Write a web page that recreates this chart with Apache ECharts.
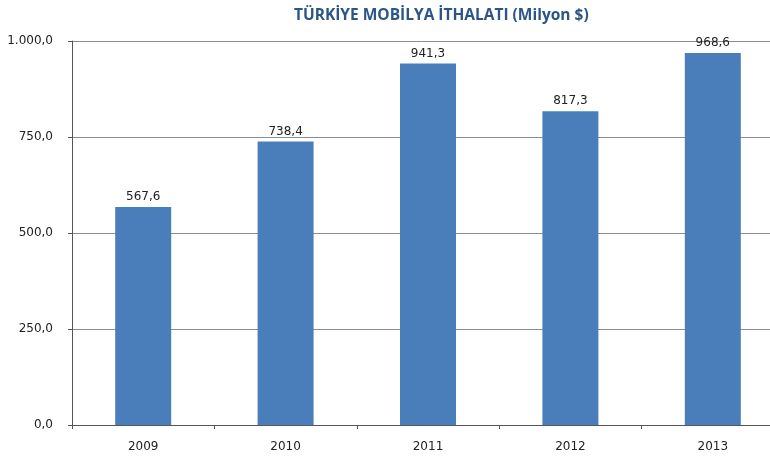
<!DOCTYPE html>
<html>
<head>
<meta charset="utf-8">
<script src="https://cdn.jsdelivr.net/npm/echarts@6/dist/echarts.min.js"></script>
<style>
  html, body { margin: 0; padding: 0; background: #fff; }
  #main { width: 770px; height: 459px; }
</style>
</head>
<body>
<div id="main"></div>
<script>
const years = ['2009', '2010', '2011', '2012', '2013']
const imports = [567.6, 738.4, 941.3, 817.3, 968.6]

// Türkçe sayı biçimi: 1.000,0
function trFormat (v) {
  const parts = v.toFixed(1).split('.')
  parts[0] = parts[0].replace(/\B(?=(\d{3})+(?!\d))/g, '.')
  return parts.join(',')
}

const chart = echarts.init(document.getElementById('main'))

const option = {
  animation: false,
  title: {
    text: 'TÜRKİYE MOBİLYA İTHALATI (Milyon $)',
    left: 289,
    top: 3,
    textStyle: {
      color: '#2b5589',
      fontSize: 15.5,
      fontWeight: 'bold',
      fontFamily: 'Open Sans'
    }
  },
  // the plot runs past the right edge of the picture (image is cropped)
  grid: {
    left: 72,
    width: 712,
    top: 41,
    bottom: 34,
    outerBoundsMode: 'none'
  },
  xAxis: {
    type: 'category',
    data: years,
    axisLine: { lineStyle: { color: '#555', width: 1 } },
    axisTick: { show: true, length: 4, lineStyle: { color: '#555' } },
    axisLabel: {
      color: '#222',
      fontSize: 12,
      fontFamily: 'DejaVu Sans',
      margin: 16
    }
  },
  yAxis: {
    type: 'value',
    min: 0,
    max: 1000,
    interval: 250,
    axisLine: { show: true, lineStyle: { color: '#555', width: 1 } },
    axisTick: { show: true, length: 4, lineStyle: { color: '#555' } },
    splitLine: { lineStyle: { color: '#8c8c8c', width: 1 } },
    axisLabel: {
      color: '#222',
      fontSize: 12,
      fontFamily: 'DejaVu Sans',
      margin: 19,
      formatter: trFormat
    }
  },
  series: [
    {
      type: 'bar',
      data: imports,
      barWidth: 56,
      itemStyle: { color: '#4a7ebb' },
      label: {
        show: true,
        position: 'top',
        distance: 4,
        color: '#222',
        fontSize: 12,
        fontFamily: 'DejaVu Sans',
        formatter: p => trFormat(p.value)
      }
    }
  ]
}

chart.setOption(option)
</script>
</body>
</html>
